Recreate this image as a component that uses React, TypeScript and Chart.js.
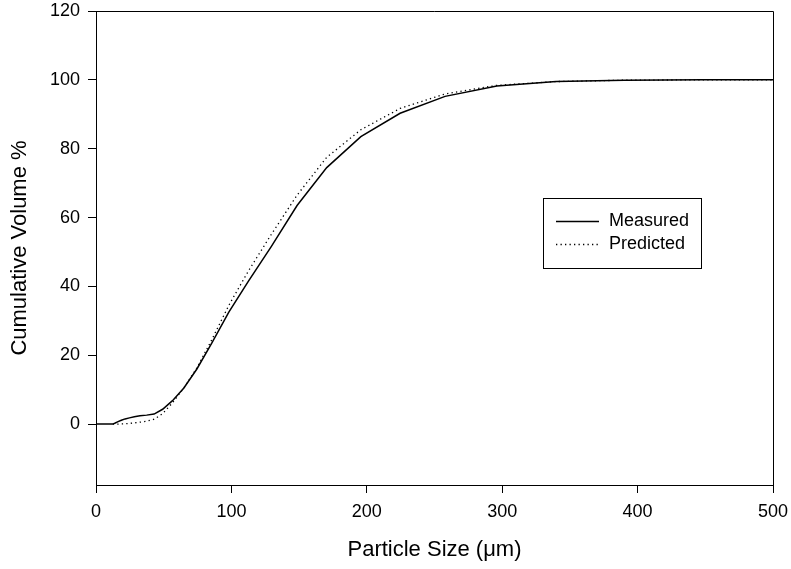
import React, { useEffect, useRef } from "react";
import { Chart, registerables } from "chart.js";

Chart.register(...registerables);

const particleSizes = [0, 12.4, 14.2, 16.3, 18.7, 21.5, 24.7, 28.3, 32.5, 37.4, 42.9, 49.2, 56.5, 64.9, 74.5, 85.5, 98.1, 112.6, 129.3, 148.5, 170.4, 195.6, 224.6, 257.8, 296.0, 339.8, 390.1, 447.8, 500];
const measured = [0, 0, 0.3, 0.7, 1.1, 1.5, 1.8, 2.1, 2.4, 2.6, 2.9, 4.3, 6.8, 10.5, 16, 23.5, 32.5, 41.5, 51.5, 63.5, 74.5, 83.5, 90.3, 95.2, 98.2, 99.5, 99.9, 100, 100];
const predicted = [null, 0, 0, 0, 0.05, 0.1, 0.2, 0.35, 0.55, 0.85, 1.4, 3, 6.2, 10.5, 16.3, 24.5, 34.5, 44.5, 55, 66.5, 77.5, 85.5, 91.7, 95.9, 98.4, 99.5, 99.9, 100, 100];
const seriesNames = ["Measured", "Predicted"];
const xTicks = [0, 100, 200, 300, 400, 500];
const yTicks = [0, 20, 40, 60, 80, 100, 120];

const FONT = "'Liberation Sans', Arial, Helvetica, sans-serif";

const framePlugin = {
  id: "frameAndLegend",
  afterDraw(chart: any) {
    const { ctx, chartArea } = chart;
    ctx.save();
    ctx.strokeStyle = "#000";
    ctx.lineWidth = 1;
    ctx.beginPath();
    ctx.moveTo(chartArea.left, chartArea.top + 0.5);
    ctx.lineTo(chartArea.right + 0.5, chartArea.top + 0.5);
    ctx.lineTo(chartArea.right + 0.5, chartArea.bottom);
    ctx.stroke();

    // legend box
    ctx.strokeRect(543.5, 198.5, 158, 70);
    ctx.font = `18px ${FONT}`;
    ctx.textBaseline = "middle";
    ctx.textAlign = "left";
    ctx.fillStyle = "#000";
    chart.data.datasets.forEach((ds: any, i: number) => {
      const y = 221 + i * 23;
      ctx.save();
      ctx.lineWidth = ds.borderWidth;
      ctx.setLineDash(ds.borderDash || []);
      ctx.strokeStyle = ds.borderColor;
      ctx.beginPath();
      ctx.moveTo(556, y + 0.5);
      ctx.lineTo(599, y + 0.5);
      ctx.stroke();
      ctx.restore();
      ctx.fillText(ds.label, 609, y);
    });
    ctx.restore();
  },
};

export default function App() {
  const ref = useRef<HTMLCanvasElement>(null);
  useEffect(() => {
    document.body.style.margin = "0";
    const chart = new Chart(ref.current!, {
      type: "line",
      data: {
        datasets: [
          {
            label: seriesNames[0],
            data: particleSizes.map((x, i) => ({ x, y: measured[i] })),
            borderColor: "#000",
            borderWidth: 1.5,
            pointRadius: 0,
            tension: 0,
            fill: false,
          },
          {
            label: seriesNames[1],
            data: particleSizes.map((x, i) => ({ x, y: predicted[i] as any })),
            borderColor: "#000",
            borderWidth: 1.3,
            borderDash: [1.3, 3.2],
            pointRadius: 0,
            tension: 0,
            fill: false,
            spanGaps: false,
          },
        ],
      },
      options: {
        responsive: false,
        animation: false,
        layout: { padding: { left: 0, right: 18, top: 11, bottom: 0 } },
        plugins: { legend: { display: false }, tooltip: { enabled: false } },
        scales: {
          x: {
            type: "linear",
            min: 0,
            max: 500,
            afterBuildTicks: (s: any) => {
              s.ticks = xTicks.map((v) => ({ value: v }));
            },
            afterFit: (s: any) => {
              s.height = 84;
              s.paddingLeft = 0;
              s.paddingRight = 0;
            },
            grid: { drawOnChartArea: false, drawTicks: true, tickLength: 8, color: "#000" },
            border: { display: true, color: "#000", width: 1 },
            ticks: { color: "#000", font: { family: FONT, size: 18 }, padding: 8, maxRotation: 0 },
            title: {
              display: true,
              text: "Particle Size (\u03BCm)",
              color: "#000",
              font: { family: FONT, size: 22 },
              padding: { top: 0, bottom: 6 },
            },
          },
          y: {
            type: "linear",
            min: -17.7,
            max: 120,
            afterBuildTicks: (s: any) => {
              s.ticks = yTicks.map((v) => ({ value: v }));
            },
            afterFit: (s: any) => {
              s.width = 96;
              s.paddingTop = 0;
              s.paddingBottom = 0;
            },
            grid: { drawOnChartArea: false, drawTicks: true, tickLength: 8, color: "#000" },
            border: { display: true, color: "#000", width: 1 },
            ticks: { color: "#000", font: { family: FONT, size: 18 }, padding: 8 },
            title: {
              display: true,
              text: "Cumulative Volume %",
              color: "#000",
              font: { family: FONT, size: 22 },
              padding: { top: 7, bottom: 0 },
            },
          },
        },
      },
      plugins: [framePlugin],
    } as any);
    return () => chart.destroy();
  }, []);
  return <canvas ref={ref} width={791} height={569} style={{ display: "block" }} />;
}
